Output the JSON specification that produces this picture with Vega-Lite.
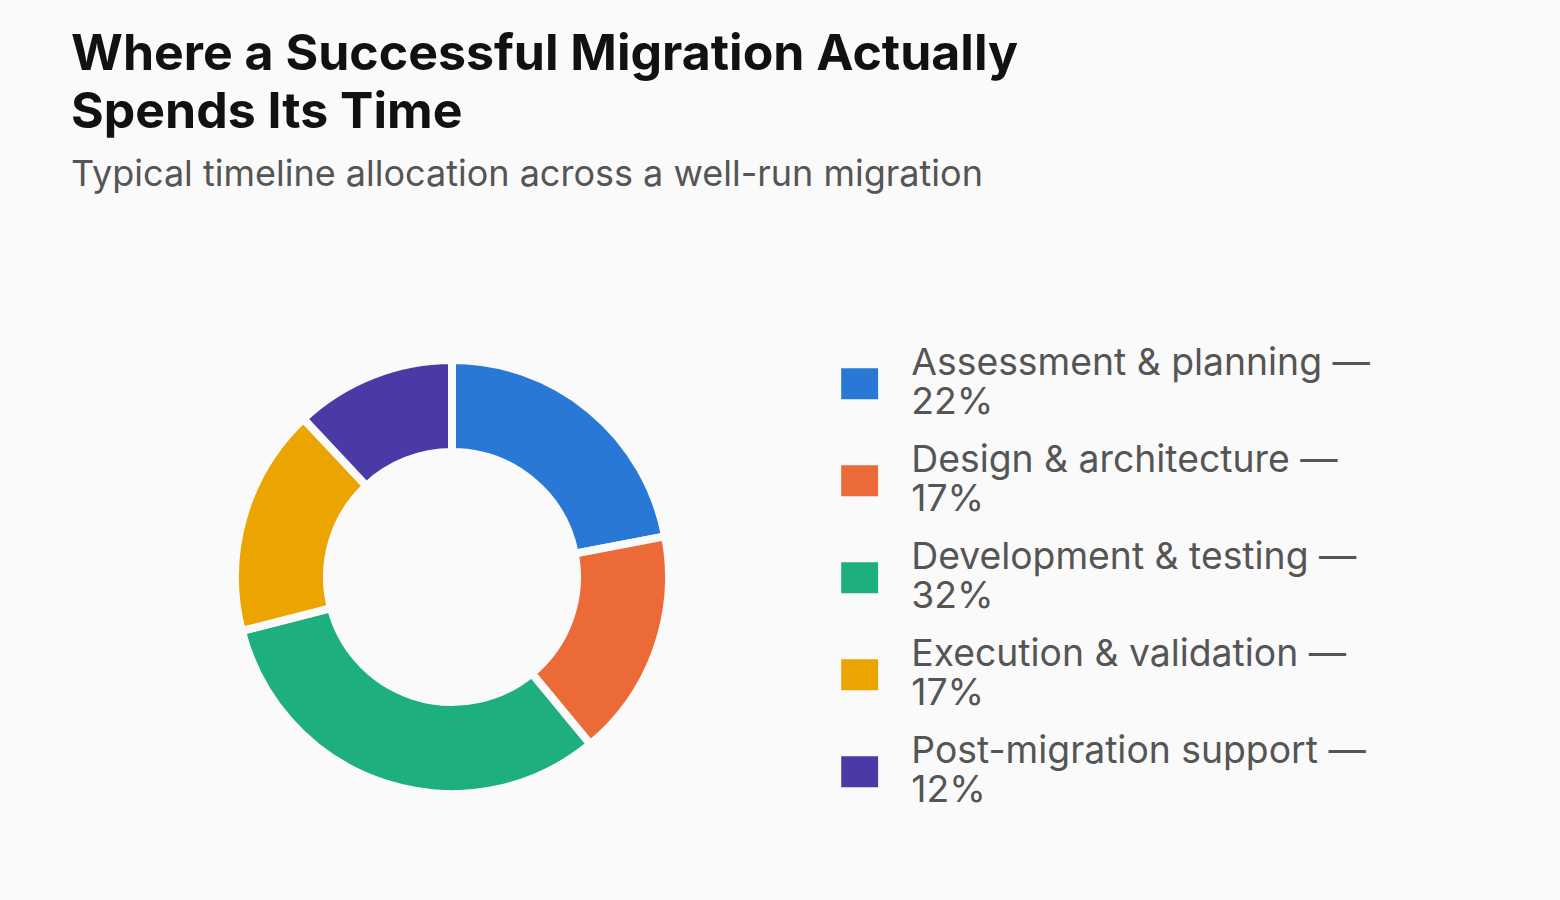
{
  "$schema": "https://vega.github.io/schema/vega-lite/v6.json",
  "width": 762,
  "height": 430,
  "padding": {"left": 71, "top": 30, "right": 190, "bottom": 106},
  "background": "#fafafa",
  "title": {
    "text": ["Where a Successful Migration Actually", "Spends Its Time"],
    "subtitle": "Typical timeline allocation across a well-run migration",
    "anchor": "start",
    "font": "Inter",
    "fontSize": 50,
    "fontWeight": "bold",
    "lineHeight": 58,
    "color": "#111111",
    "subtitleFont": "Inter",
    "subtitleFontSize": 36,
    "subtitleColor": "#555555",
    "subtitlePadding": 20,
    "offset": 151
  },
  "data": {
    "values": [
      {"phase": "Assessment & planning", "share": 22, "label": "Assessment & planning — 22%"},
      {"phase": "Design & architecture", "share": 17, "label": "Design & architecture — 17%"},
      {"phase": "Development & testing", "share": 32, "label": "Development & testing — 32%"},
      {"phase": "Execution & validation", "share": 17, "label": "Execution & validation — 17%"},
      {"phase": "Post-migration support", "share": 12, "label": "Post-migration support — 12%"}
    ]
  },
  "mark": {"type": "arc", "outerRadius": 217, "innerRadius": 125, "stroke": "#fafafa", "strokeWidth": 8},
  "encoding": {
    "theta": {"field": "share", "type": "quantitative", "stack": true},
    "color": {
      "field": "label",
      "type": "nominal",
      "title": null,
      "scale": {
        "range": ["#2a78d6", "#eb6a38", "#1daf7f", "#eca400", "#4a3aa5"]
      },
      "legend": {
        "orient": "right",
        "offset": 5,
        "padding": 3,
        "symbolType": "M-1.19,-1H1.19V1H-1.19Z",
        "symbolSize": 961,
        "symbolStrokeWidth": 0,
        "labelFont": "Inter",
        "labelFontSize": 37.3,
        "labelColor": "#555555",
        "labelLineHeight": 40,
        "labelBaseline": "line-bottom",
        "labelOffset": 33,
        "labelLimit": 600,
        "rowPadding": 19,
        "labelExpr": "[split(datum.label, ' — ')[0] + ' —', split(datum.label, ' — ')[1]]"
      }
    }
  },
  "config": {"view": {"stroke": null}}
}
